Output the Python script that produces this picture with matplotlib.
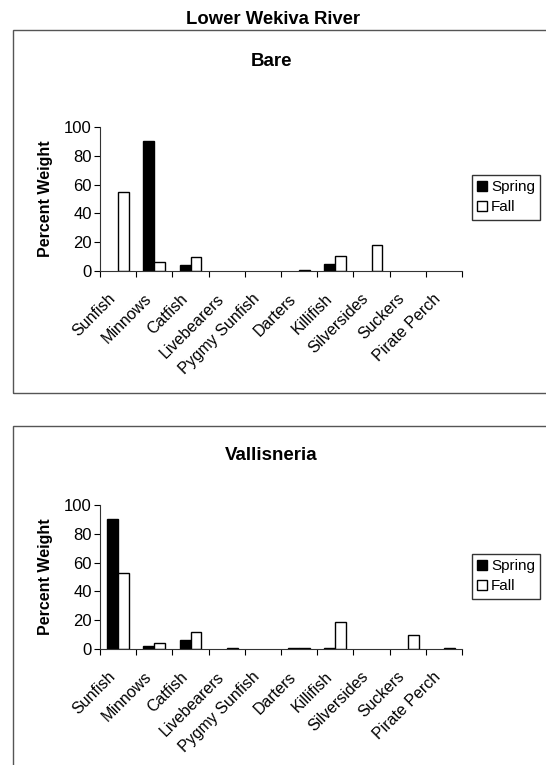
import matplotlib
matplotlib.use("Agg")
import matplotlib.pyplot as plt
from matplotlib.patches import Rectangle, Patch
import numpy as np

plt.rcParams['font.family'] = ['Liberation Sans', 'DejaVu Sans']

categories = ["Sunfish", "Minnows", "Catfish", "Livebearers", "Pygmy Sunfish",
              "Darters", "Killifish", "Silversides", "Suckers", "Pirate Perch"]

bare_spring = [0, 90, 4, 0, 0, 0, 5, 0, 0, 0]
bare_fall = [55, 6, 10, 0, 0, 0.5, 10.5, 18, 0, 0]

vall_spring = [90, 2, 6, 0, 0, 0.5, 1, 0, 0, 0]
vall_fall = [53, 4, 12, 0.5, 0, 1, 19, 0, 10, 0.5]

y_ticks = [0, 20, 40, 60, 80, 100]

W, H = 546, 765
fig = plt.figure(figsize=(W / 100, H / 100), dpi=100)


def fx(px):
    return px / W


def fy(py):
    return 1 - py / H


# panel frames
fig.patches.append(Rectangle((fx(13), fy(393)), 1.0, fy(30) - fy(393),
                             transform=fig.transFigure, fill=False,
                             edgecolor="#555555", linewidth=1.0))
fig.patches.append(Rectangle((fx(13), -0.05), 1.0, fy(426) + 0.05,
                             transform=fig.transFigure, fill=False,
                             edgecolor="#555555", linewidth=1.0))

fig.text(0.5, fy(20), "Lower Wekiva River", ha="center", va="center",
         fontsize=13.3, fontweight="bold")


def panel(top_px, title, title_y, spring, fall, legend_top):
    x0, x1 = 100, 462
    ax = fig.add_axes([fx(x0), fy(top_px + 144), fx(x1) - fx(x0), 144 / H])
    x = np.arange(len(categories))
    w = 0.3
    # empty categories get no outline so the axis line stays clean
    lw_s = [1.0 if v > 0 else 0 for v in spring]
    lw_f = [1.0 if v > 0 else 0 for v in fall]
    ax.bar(x - w / 2, spring, width=w, color="black", edgecolor="black",
           linewidth=lw_s, label="Spring")
    ax.bar(x + w / 2, fall, width=w, color="white", edgecolor="black",
           linewidth=lw_f, label="Fall")
    ax.set_xlim(-0.5, len(categories) - 0.5)
    ax.set_ylim(0, 100)
    ax.set_yticks(y_ticks)
    ax.set_yticklabels([str(t) for t in y_ticks], fontsize=12)
    ax.set_xticks(x)
    ax.set_xticklabels(categories, rotation=45, ha="right", va="bottom",
                       rotation_mode="anchor", fontsize=11.5)
    ax.set_xticks(np.arange(-0.5, len(categories)), minor=True)
    ax.tick_params(axis="x", which="major", length=0, pad=22)
    ax.tick_params(axis="x", which="minor", length=4, direction="out",
                   width=0.8)
    ax.tick_params(axis="y", length=4, direction="out", width=0.8, pad=2)
    for s in ("top", "right"):
        ax.spines[s].set_visible(False)
    for s in ("left", "bottom"):
        ax.spines[s].set_linewidth(0.8)
        ax.spines[s].set_color("#333333")
    ax.set_ylabel("Percent Weight", fontsize=11.5, fontweight="bold",
                  labelpad=8)
    fig.text(0.497, fy(title_y), title, ha="center", va="center",
             fontsize=13.5, fontweight="bold")
    handles = [Patch(facecolor="black", edgecolor="black", label="Spring"),
               Patch(facecolor="white", edgecolor="black", label="Fall")]
    leg = fig.legend(handles=handles, loc="upper left",
                     bbox_to_anchor=(fx(472), fy(legend_top)),
                     fontsize=11, frameon=True, fancybox=False,
                     handlelength=0.65, handleheight=0.65, handletextpad=0.25,
                     borderpad=0.35, labelspacing=0.4, borderaxespad=0)
    leg.get_frame().set_edgecolor("black")
    leg.get_frame().set_linewidth(1.0)
    return ax


panel(127, "Bare", 61, bare_spring, bare_fall, 175)
panel(505, "Vallisneria", 455, vall_spring, vall_fall, 554)

fig.savefig("out.png", dpi=100)
